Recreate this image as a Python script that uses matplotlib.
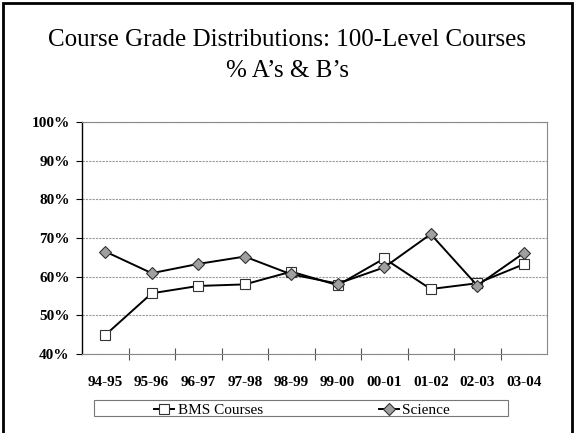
import matplotlib
matplotlib.use("Agg")
import matplotlib.pyplot as plt
from matplotlib.patches import Rectangle
from matplotlib.ticker import FixedLocator, FuncFormatter
import numpy as np

# Data
years = ["94-95", "95-96", "96-97", "97-98", "98-99", "99-00", "00-01", "01-02", "02-03", "03-04"]
bms = [44.9, 55.7, 57.6, 58.0, 61.3, 57.8, 64.7, 56.8, 58.3, 63.2]
science = [66.5, 60.9, 63.3, 65.2, 60.6, 58.2, 62.4, 71.0, 57.7, 66.1]
y_ticks = [40, 50, 60, 70, 80, 90, 100]

W, H = 574, 433
plt.rcParams["font.family"] = ["Liberation Serif", "DejaVu Serif"]

fig = plt.figure(figsize=(W / 100, H / 100), dpi=100)
ax = fig.add_axes([82 / W, 1 - 354 / H, 465 / W, 232 / H])

x = np.arange(len(years))
ax.plot(x, bms, color="black", lw=1.4, marker="s", markersize=7.5,
        markerfacecolor="white", markeredgecolor="#333333", markeredgewidth=0.8,
        label="BMS Courses", zorder=3)
ax.plot(x, science, color="black", lw=1.4, marker="D", markersize=6.3,
        markerfacecolor="#a0a0a0", markeredgecolor="#333333", markeredgewidth=0.8,
        label="Science", zorder=3)

ax.set_xlim(-0.5, len(years) - 0.5)
ax.set_ylim(40, 100)
ax.set_xticks(x)
ax.set_xticklabels(years, fontsize=11, fontweight="bold")
ax.xaxis.set_minor_locator(FixedLocator(np.arange(0.5, len(years) - 1, 1)))
ax.tick_params(axis="x", which="major", length=0, pad=16)
ax.tick_params(axis="x", which="minor", direction="inout", length=9, width=0.8, color="#555555")

ax.set_yticks(y_ticks)
ax.yaxis.set_major_formatter(FuncFormatter(lambda v, p: f"{v:.0f}%"))
ax.tick_params(axis="y", length=4, width=0.8, pad=5, labelsize=11)
for lab in ax.get_yticklabels():
    lab.set_fontweight("bold")

ax.grid(axis="y", color="#999999", lw=0.8, ls=(0, (2, 1)))
ax.spines["left"].set_color("black")
ax.spines["left"].set_linewidth(1.0)
for s in ["bottom", "right", "top"]:
    ax.spines[s].set_color("#888888")
    ax.spines[s].set_linewidth(0.8)

fig.text(0.5, 1 - 40 / H, "Course Grade Distributions: 100-Level Courses",
         ha="center", va="center", fontsize=18)
fig.text(0.5, 1 - 71 / H, "% A\u2019s & B\u2019s", ha="center", va="center", fontsize=18)

# legend: entries centred, box drawn separately
leg = fig.legend(loc="center", ncol=2, fontsize=11,
                 bbox_to_anchor=(302 / W, 1 - 410 / H),
                 borderaxespad=0, borderpad=0, handlelength=1.3,
                 handletextpad=0.25, columnspacing=7.6, frameon=False)
fig.patches.append(Rectangle((94 / W, 1 - 416 / H), 414 / W, 16 / H,
                             transform=fig.transFigure, fill=False,
                             edgecolor="#777777", lw=0.8))

# outer border of the slide
fig.patches.append(Rectangle((3 / W, -0.1), 569 / W, 1.1 - 3 / H,
                             transform=fig.transFigure, fill=False,
                             edgecolor="black", lw=2.0))

fig.savefig("out.png", dpi=100)
